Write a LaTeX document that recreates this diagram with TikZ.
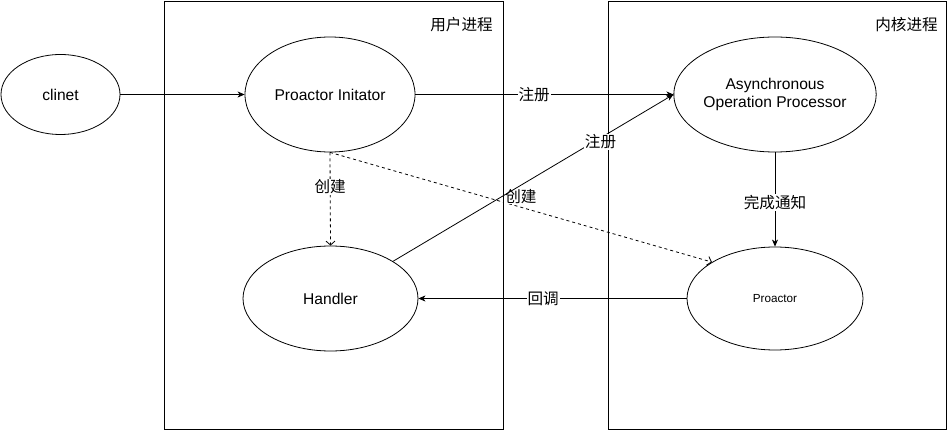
\documentclass[tikz,border=0pt]{standalone}
\usepackage{fontspec}
\setmainfont{Liberation Sans}
\newfontfamily\cjk{Noto Sans CJK SC}
\usetikzlibrary{shapes.geometric,arrows.meta}
\begin{document}
\begin{tikzpicture}[x=1pt,y=-1pt,
  proc/.style={draw,line width=1pt},
  ell/.style={draw,ellipse,line width=0.8pt,inner sep=0pt,font=\fontsize{15.6}{18}\selectfont,align=center},
  conn/.style={line width=0.8pt,-{Stealth[length=7pt,width=6pt,inset=2pt]}},
  dconn/.style={line width=0.8pt,dashed,dash pattern=on 3pt off 3pt,-{Straight Barb[length=4pt,width=9pt]}},
  lbl/.style={fill=white,inner sep=1pt,font=\cjk\fontsize{15.6}{18}\selectfont},
  title/.style={font=\cjk\fontsize{15.6}{18}\selectfont}
]
\useasboundingbox (0,0) rectangle (948,430);
% process boxes
\draw[proc] (164.5,1.5) rectangle (503.5,429) ;
\draw[proc] (608.5,1.5) rectangle (946.5,429);
\node[title] (tu) at (461.5,25) {用户进程};
\node[title] (tk) at (906.5,25) {内核进程};
% ellipses
\node[ell,minimum width=119pt,minimum height=80pt] (cl) at (60.5,94.5) {clinet};
\node[ell,minimum width=170pt,minimum height=115pt] (pi) at (330,94.5) {Proactor Initator};
\node[ell,minimum width=174pt,minimum height=115pt] (ap) at (775,94.5) {Asynchronous\\Operation Processor};
\node[ell,minimum width=175pt,minimum height=105pt] (h) at (330.5,298.5) {Handler};
\node[ell,minimum width=176pt,minimum height=103pt,font=\fontsize{11.7}{14}\selectfont] (pr) at (775,298.5) {Proactor};
% connectors
\draw[conn] (cl.east) -- (pi.west);
\draw[conn] (pi.east) -- node[lbl,pos=0.46] (l1) {注册} (ap.west);
\draw[dconn] (pi.south) -- node[lbl,pos=0.37] (l2) {创建} (h.north);
\draw[dconn] (pi.south) -- node[lbl,pos=0.5,yshift=11pt] (l3) {创建} (pr.150);
\draw[conn] (h) -- node[lbl,pos=0.74,yshift=-4pt] (l4) {注册} (ap.west);
\draw[conn] (ap.south) -- node[lbl,pos=0.53] (l5) {完成通知} (pr.north);
\draw[conn] (pr.west) -- node[lbl,pos=0.535] (l6) {回调} (h.east);
\end{tikzpicture}
\end{document}
